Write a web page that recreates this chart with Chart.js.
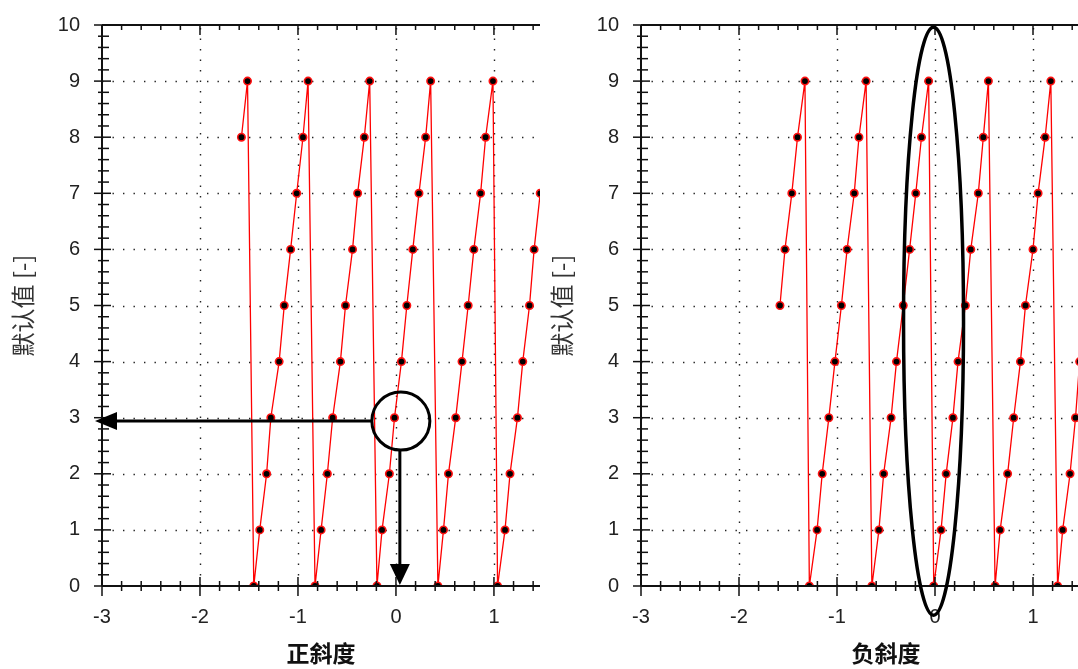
<!DOCTYPE html>
<html lang="zh">
<head>
<meta charset="UTF-8">
<title>正斜度 / 负斜度</title>
<script src="https://cdn.jsdelivr.net/npm/chart.js@4.4.0/dist/chart.umd.min.js"></script>
<style>
  body { margin: 0; width: 1078px; height: 669px; overflow: hidden; background: #fff; position: relative; }
  canvas { position: absolute; top: 0; }
  #posChart { left: 0; }
  #negChart { left: 539px; }
</style>
</head>
<body>
<canvas id="posChart" width="560" height="669"></canvas>
<canvas id="negChart" width="610" height="669"></canvas>
<script>
// tick values / labels
const xTickVals = [-3, -2, -1, 0, 1];
const xTickLabels = ['-3', '-2', '-1', '0', '1'];
const yTickVals = [0, 1, 2, 3, 4, 5, 6, 7, 8, 9, 10];
const yTickLabels = ['0', '1', '2', '3', '4', '5', '6', '7', '8', '9', '10'];

// 正斜度
const posX = [-1.577, -1.515,
  -1.451, -1.39, -1.32, -1.277, -1.192, -1.14, -1.075, -1.013, -0.949, -0.897,
  -0.826, -0.764, -0.70, -0.646, -0.567, -0.515, -0.443, -0.391, -0.323, -0.268,
  -0.194, -0.142, -0.067, -0.015, 0.056, 0.111, 0.172, 0.235, 0.303, 0.354,
  0.428, 0.485, 0.536, 0.61, 0.674, 0.737, 0.795, 0.864, 0.915, 0.99,
  1.037, 1.113, 1.164, 1.24, 1.294, 1.363, 1.41, 1.472];
const posY = [8, 9,
  0, 1, 2, 3, 4, 5, 6, 7, 8, 9,
  0, 1, 2, 3, 4, 5, 6, 7, 8, 9,
  0, 1, 2, 3, 4, 5, 6, 7, 8, 9,
  0, 1, 2, 3, 4, 5, 6, 7, 8, 9,
  0, 1, 2, 3, 4, 5, 6, 7];

// 负斜度
const negX = [-1.582, -1.531, -1.461, -1.403, -1.327,
  -1.282, -1.203, -1.151, -1.083, -1.021, -0.955, -0.897, -0.824, -0.776, -0.703,
  -0.644, -0.572, -0.524, -0.448, -0.393, -0.324, -0.259, -0.196, -0.138, -0.065,
  -0.013, 0.062, 0.114, 0.183, 0.235, 0.310, 0.365, 0.442, 0.493, 0.545,
  0.613, 0.665, 0.741, 0.803, 0.872, 0.923, 1.0, 1.052, 1.124, 1.182,
  1.251, 1.303, 1.378, 1.434, 1.476];
const negY = [5, 6, 7, 8, 9,
  0, 1, 2, 3, 4, 5, 6, 7, 8, 9,
  0, 1, 2, 3, 4, 5, 6, 7, 8, 9,
  0, 1, 2, 3, 4, 5, 6, 7, 8, 9,
  0, 1, 2, 3, 4, 5, 6, 7, 8, 9,
  0, 1, 2, 3, 4];

const numFont = '"Liberation Sans", Arial, sans-serif';
const cjkFont = '"Noto Sans CJK SC", sans-serif';

function seg(ctx, x1, y1, x2, y2) {
  ctx.beginPath(); ctx.moveTo(x1, y1); ctx.lineTo(x2, y2); ctx.stroke();
}

// dotted grid, axis frame with inner/outer ticks, and the hand-drawn marks
const decor = {
  id: 'decor',
  beforeDatasetsDraw(chart) {
    const { ctx, chartArea: a, scales: { x, y } } = chart;
    ctx.save();
    ctx.strokeStyle = '#222';
    ctx.lineWidth = 1.4;
    ctx.setLineDash([1.4, 9.1]);
    xTickVals.forEach(v => {
      if (v <= x.min) return;
      const px = Math.round(x.getPixelForValue(v)) + 0.5;
      seg(ctx, px, a.bottom, px, a.top);
    });
    yTickVals.forEach(v => {
      if (v <= y.min || v >= y.max) return;
      const py = Math.round(y.getPixelForValue(v)) + 0.5;
      seg(ctx, a.left, py, a.right, py);
    });
    ctx.restore();
  },
  afterDatasetsDraw(chart, args, opts) {
    const { ctx, chartArea: a, scales: { x, y } } = chart;
    ctx.save();
    ctx.strokeStyle = '#111';
    ctx.lineWidth = 2;
    seg(ctx, a.left, a.top, a.left, a.bottom);
    seg(ctx, a.left, a.bottom, a.right, a.bottom);
    seg(ctx, a.left, a.top, a.right, a.top);
    ctx.lineWidth = 1.5;
    for (let i = 0; ; i++) {
      const v = x.min + i * 0.2;
      if (v > x.max + 1e-9) break;
      const px = x.getPixelForValue(v);
      const major = Math.abs(v - Math.round(v)) < 1e-6;
      if (major) {
        seg(ctx, px, a.bottom - 9, px, a.bottom + 10);
        seg(ctx, px, a.top, px, a.top + 10);
      } else {
        seg(ctx, px, a.bottom - 5, px, a.bottom + 5);
        seg(ctx, px, a.top, px, a.top + 5);
      }
    }
    for (let i = 0; ; i++) {
      const v = y.min + i * 0.2;
      if (v > y.max + 1e-9) break;
      const py = y.getPixelForValue(v);
      const major = Math.abs(v - Math.round(v)) < 1e-6;
      if (major) seg(ctx, a.left - 8, py, a.left + 9, py);
      else seg(ctx, a.left - 4, py, a.left + 7, py);
    }
    ctx.restore();
    if (opts.annotate) {
      ctx.save();
      ctx.strokeStyle = '#000';
      ctx.fillStyle = '#000';
      opts.annotate(ctx, x, y, a);
      ctx.restore();
    }
  }
};

function makeChart(id, xs, ys, xMax, padRight, title, annotate) {
  return new Chart(document.getElementById(id), {
    type: 'scatter',
    data: {
      datasets: [{
        data: xs.map((v, i) => ({ x: v, y: ys[i] })),
        showLine: true,
        borderColor: '#ff0000',
        borderWidth: 1.3,
        pointRadius: 3.7,
        pointBackgroundColor: '#000',
        pointBorderColor: '#ff1010',
        pointBorderWidth: 1.6,
        clip: 0
      }]
    },
    options: {
      responsive: false,
      animation: false,
      layout: { padding: { top: 25, right: padRight, left: 0, bottom: 0 } },
      plugins: {
        legend: { display: false },
        tooltip: { enabled: false },
        decor: { annotate: annotate }
      },
      scales: {
        x: {
          type: 'linear',
          min: -3,
          max: xMax,
          afterFit(s) { s.height = 83; s.paddingRight = 0; },
          afterBuildTicks(s) { s.ticks = xTickVals.map(v => ({ value: v })); },
          grid: { display: false, drawTicks: false },
          border: { display: false },
          ticks: {
            padding: 19,
            color: '#222',
            font: { family: numFont, size: 20 },
            callback: v => xTickLabels[xTickVals.indexOf(v)]
          },
          title: {
            display: true,
            text: title,
            color: '#111',
            font: { family: cjkFont, size: 23, weight: 'bold' },
            padding: { top: 0, bottom: 2 }
          }
        },
        y: {
          type: 'linear',
          min: 0,
          max: 10,
          afterFit(s) { s.width = 102; s.paddingTop = 0; s.paddingBottom = 0; },
          afterBuildTicks(s) { s.ticks = yTickVals.map(v => ({ value: v })); },
          grid: { display: false, drawTicks: false },
          border: { display: false },
          ticks: {
            padding: 22,
            color: '#222',
            font: { family: numFont, size: 20 },
            callback: v => yTickLabels[yTickVals.indexOf(v)]
          },
          title: {
            display: true,
            text: '默认值 [-]',
            color: '#333',
            font: { family: cjkFont, size: 24 },
            padding: { top: 8, bottom: 0 }
          }
        }
      }
    },
    plugins: [decor]
  });
}

// left: circle on the point, arrows to both axes
makeChart('posChart', posX, posY, 1.47, 20, '正斜度', (ctx, x, y, a) => {
  const cx = x.getPixelForValue(0.05), cy = y.getPixelForValue(2.94), r = 29;
  ctx.lineWidth = 3;
  ctx.beginPath(); ctx.arc(cx, cy, r, 0, Math.PI * 2); ctx.stroke();
  const tipX = a.left - 7;
  seg(ctx, cx - r, cy, tipX + 18, cy);
  ctx.beginPath(); ctx.moveTo(tipX, cy); ctx.lineTo(tipX + 22, cy - 9); ctx.lineTo(tipX + 22, cy + 9); ctx.closePath(); ctx.fill();
  const tipY = a.bottom - 1;
  seg(ctx, cx - 1, cy + r, cx - 1, tipY - 18);
  ctx.beginPath(); ctx.moveTo(cx - 1, tipY); ctx.lineTo(cx - 11, tipY - 21); ctx.lineTo(cx + 9, tipY - 21); ctx.closePath(); ctx.fill();
});

// right: tall ellipse round the x = 0 column
makeChart('negChart', negX, negY, 2.0, 18, '负斜度', (ctx, x, y) => {
  const cx = x.getPixelForValue(-0.015), cy = y.getPixelForValue(4.72);
  ctx.lineWidth = 3.5;
  ctx.beginPath(); ctx.ellipse(cx, cy, 30, 294, 0, 0, Math.PI * 2); ctx.stroke();
});
</script>
</body>
</html>
